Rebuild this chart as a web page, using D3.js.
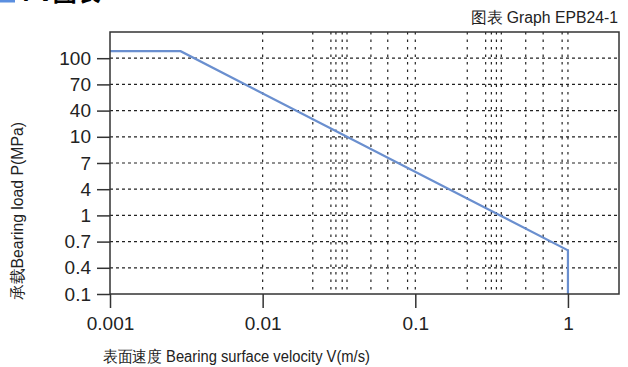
<!DOCTYPE html>
<html>
<head>
<meta charset="utf-8">
<script src="https://cdn.jsdelivr.net/npm/d3@7"></script>
<style>
  body { margin: 0; background: #fff; }
  svg { display: block; }
</style>
</head>
<body>
<div id="chart"></div>
<script>
// y axis is not a real scale, the labels are just spread evenly
const yLabels = [0.1, 0.4, 0.7, 1, 4, 7, 10, 40, 70, 100];
const xTicks = [0.001, 0.01, 0.1, 1];
// dotted vertical grid lines (odd positions)
const gridX = [0.01, 0.0213, 0.028, 0.0302, 0.0332, 0.0357, 0.0512, 0.066, 0.089, 0.1,
  0.219, 0.289, 0.315, 0.34, 0.366, 0.529, 0.688, 0.916, 1];
// the PV limit curve
const curveV = [0.001, 0.0029, 1, 1];
const curveP = [108, 108, 0.6, 0.1];

const width = 628, height = 367;
const margin = { top: 32, right: 9, bottom: 73, left: 110 };
const w = width - margin.left - margin.right;
const h = height - margin.top - margin.bottom;

const svg = d3.select("#chart")
  .append("svg")
  .attr("width", width)
  .attr("height", height);

// heading that is cut off at the very top
svg.append("rect").attr("x", 0).attr("y", -10).attr("width", 15).attr("height", 12.5).attr("fill", "#5b8fe0");
svg.append("text")
  .attr("x", 22).attr("y", 1)
  .style("font-family", "'Noto Sans CJK SC', sans-serif")
  .style("font-size", "24px").style("font-weight", "bold")
  .text("PV图表");

const labelFont = "'Liberation Sans', Arial, sans-serif";

svg.append("text")
  .attr("x", 471).attr("y", 23)
  .attr("textLength", 147)
  .attr("lengthAdjust", "spacingAndGlyphs")
  .style("font-family", labelFont)
  .style("font-size", "16px")
  .attr("fill", "#222")
  .text("图表 Graph EPB24-1");

const g = svg.append("g")
  .attr("transform", `translate(${margin.left}, ${margin.top})`);

const x = d3.scaleLog()
  .domain([0.001, 2.16])
  .range([0, w]);

// one step per label, plus one empty step above 100
const step = h / yLabels.length;
const y = d3.scaleLinear()
  .domain(yLabels)
  .range(yLabels.map((d, i) => h - i * step));

// horizontal grid
g.selectAll(".hgrid")
  .data(yLabels.slice(1))
  .join("line")
  .attr("x1", 0).attr("x2", w)
  .attr("y1", d => y(d)).attr("y2", d => y(d))
  .attr("stroke", "#222")
  .attr("stroke-width", 1.2)
  .attr("stroke-dasharray", "3,3");

// vertical grid
g.selectAll(".vgrid")
  .data(gridX)
  .join("line")
  .attr("x1", d => x(d)).attr("x2", d => x(d))
  .attr("y1", 0).attr("y2", h)
  .attr("stroke", "#222")
  .attr("stroke-width", 1.2)
  .attr("stroke-dasharray", "2.5,5");

const line = d3.line()
  .x(d => x(d[0]))
  .y(d => y(d[1]));

g.append("path")
  .datum(curveV.map((v, i) => [v, curveP[i]]))
  .attr("d", line)
  .attr("fill", "none")
  .attr("stroke", "#6a8fcf")
  .attr("stroke-width", 2.2);

// frame
g.append("rect")
  .attr("width", w).attr("height", h)
  .attr("fill", "none")
  .attr("stroke", "#333")
  .attr("stroke-width", 1.5);

const xAxis = g.append("g")
  .attr("transform", `translate(0, ${h})`)
  .call(d3.axisBottom(x).tickValues(xTicks).tickFormat(d => String(d)).tickSize(14).tickPadding(9));
const yAxis = g.append("g")
  .call(d3.axisLeft(y).tickValues(yLabels).tickFormat(d => String(d)).tickSize(13).tickPadding(6));

[xAxis, yAxis].forEach(a => {
  a.select(".domain").remove();
  a.selectAll("line").attr("stroke", "#333").attr("stroke-width", 1.5);
  a.selectAll("text")
    .attr("fill", "#222")
    .style("font-family", labelFont)
    .style("font-size", "19px");
});

svg.append("text")
  .attr("x", 103).attr("y", 362)
  .attr("textLength", 267)
  .attr("lengthAdjust", "spacingAndGlyphs")
  .style("font-family", labelFont)
  .style("font-size", "16px")
  .attr("fill", "#222")
  .text("表面速度 Bearing surface velocity V(m/s)");

svg.append("text")
  .attr("transform", "translate(23, 300) rotate(-90)")
  .attr("textLength", 178)
  .attr("lengthAdjust", "spacingAndGlyphs")
  .style("font-family", labelFont)
  .style("font-size", "16px")
  .attr("fill", "#222")
  .text("承载Bearing load P(MPa)");
</script>
</body>
</html>
